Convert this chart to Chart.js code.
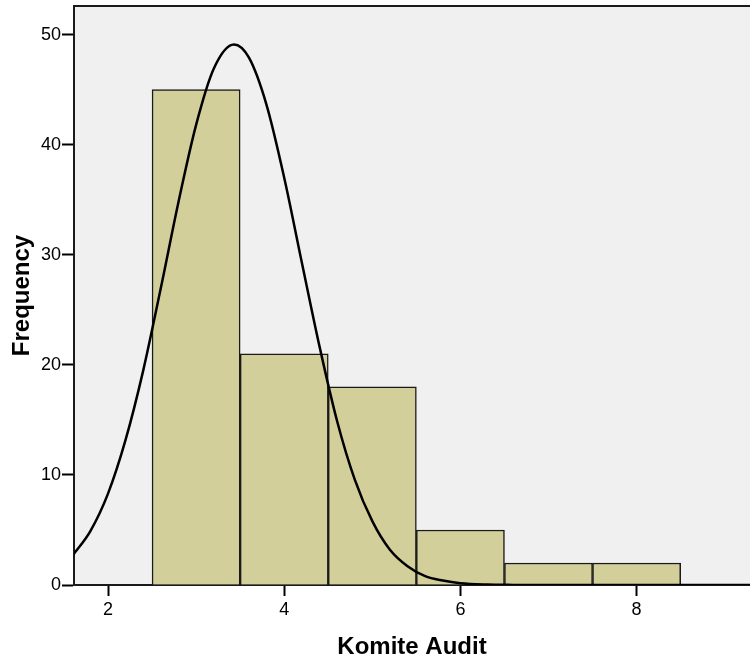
<!DOCTYPE html>
<html>
<head>
<meta charset="utf-8">
<script src="https://cdn.jsdelivr.net/npm/chart.js@4/dist/chart.umd.min.js"></script>
<style>
html,body{margin:0;padding:0;background:#fff;}
#c{display:block;}
</style>
</head>
<body>
<canvas id="c" width="750" height="666"></canvas>
<script>
// Histogram bins (centres) and counts
const binCenters = [3, 4, 5, 6, 7, 8];
const frequencies = [45, 21, 18, 5, 2, 2];

// Normal curve points
const curveX = [1.6, 1.8, 2.0, 2.2, 2.4, 2.6, 2.8, 3.0, 3.2, 3.43, 3.6, 3.8, 4.0, 4.2, 4.4, 4.6, 4.8, 5.0, 5.2, 5.4, 5.6, 5.8, 6.0, 6.3, 6.6, 7.0, 8.0, 9.3];
const curveY = [2.7, 4.9, 8.3, 13.2, 19.5, 27.0, 34.8, 41.8, 46.9, 49.1, 47.9, 43.6, 37.0, 29.3, 21.7, 14.9, 9.6, 5.8, 3.2, 1.7, 0.8, 0.4, 0.16, 0.04, 0.01, 0, 0, 0];

// Tick labels
const xTicks = [2, 4, 6, 8];
const yTicks = [0, 10, 20, 30, 40, 50];

const xTitle = 'Komite Audit';
const yTitle = 'Frequency';

const areaPlugin = {
  id: 'area',
  beforeDraw(chart) {
    const {ctx, chartArea: a} = chart;
    ctx.save();
    ctx.fillStyle = '#f0f0f0';
    ctx.fillRect(a.left, a.top, a.right - a.left, a.bottom - a.top);
    ctx.restore();
  },
  afterDraw(chart) {
    const {ctx, chartArea: a} = chart;
    ctx.save();
    ctx.strokeStyle = '#1a1a1a';
    ctx.lineWidth = 2;
    ctx.beginPath();
    ctx.moveTo(a.left, a.top);
    ctx.lineTo(a.right, a.top);
    ctx.stroke();
    ctx.restore();
  }
};

const font = "'Liberation Sans', Arial, sans-serif";

new Chart(document.getElementById('c'), {
  data: {
    datasets: [
      {
        type: 'line',
        order: 0,
        data: curveX.map((x, i) => ({x, y: curveY[i]})),
        borderColor: '#000',
        borderWidth: 2.5,
        pointRadius: 0,
        fill: false,
        cubicInterpolationMode: 'monotone'
      },
      {
        type: 'bar',
        order: 1,
        data: binCenters.map((x, i) => ({x, y: frequencies[i]})),
        backgroundColor: '#d3cf9a',
        borderColor: '#1a1a1a',
        borderWidth: 1.5,
        barPercentage: 1,
        categoryPercentage: 1
      }
    ]
  },
  options: {
    responsive: false,
    animation: false,
    layout: {padding: {top: 6, right: 0, left: 0, bottom: 0}},
    plugins: {legend: {display: false}, tooltip: {enabled: false}},
    scales: {
      x: {
        type: 'linear',
        offset: false,
        min: 1.614,
        max: 9.287,
        afterBuildTicks: s => { s.ticks = xTicks.map(v => ({value: v})); },
        afterFit: s => { s.height = 81; s.paddingLeft = 0; s.paddingRight = 0; },
        grid: {offset: false, drawOnChartArea: false, drawTicks: true, tickLength: 11, tickColor: '#000', tickWidth: 2},
        border: {color: '#1a1a1a', width: 2},
        ticks: {color: '#000', padding: 3, font: {family: font, size: 18}, maxRotation: 0},
        title: {display: true, text: xTitle, color: '#000', font: {family: font, size: 24, weight: 'bold'}, padding: {top: 0, bottom: 4}}
      },
      y: {
        type: 'linear',
        min: 0,
        max: 52.6,
        afterBuildTicks: s => { s.ticks = yTicks.map(v => ({value: v})); },
        afterFit: s => { s.width = 74; s.paddingTop = 0; s.paddingBottom = 0; },
        grid: {drawOnChartArea: false, drawTicks: true, tickLength: 12, tickColor: '#000', tickWidth: 2},
        border: {color: '#1a1a1a', width: 2},
        ticks: {color: '#000', padding: 1, font: {family: font, size: 18}},
        title: {display: true, text: yTitle, color: '#000', font: {family: font, size: 24, weight: 'bold'}, padding: {top: 8, bottom: 0}}
      }
    }
  },
  plugins: [areaPlugin]
});
</script>
</body>
</html>
